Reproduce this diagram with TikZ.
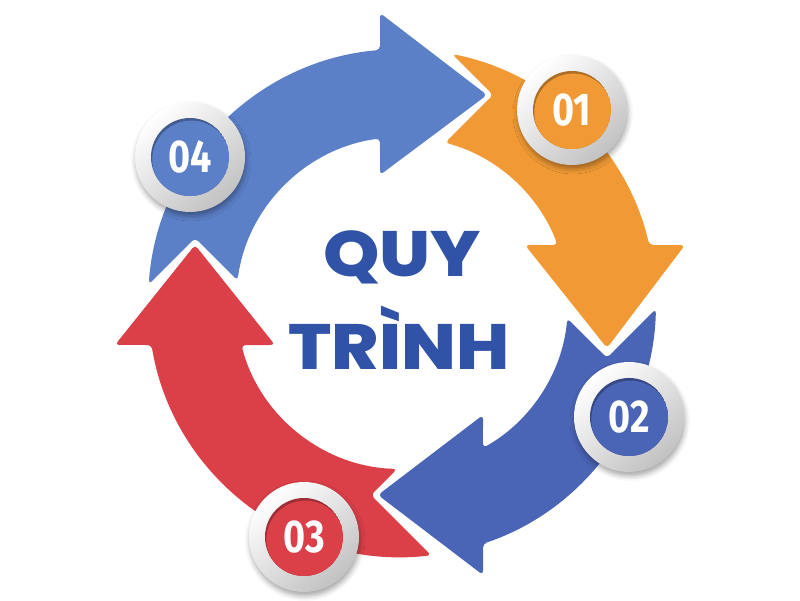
\documentclass[tikz,border=0pt]{standalone}
\usepackage{fontspec}
\usetikzlibrary{calc,shadows.blur}
\newfontfamily\titlefont{Poppins}[BoldFont={Poppins ExtraBold}]
\newfontfamily\numfont{Fira Sans}
\definecolor{arrA}{HTML}{5C80C8}
\definecolor{arrB}{HTML}{F19A35}
\definecolor{arrC}{HTML}{4A64B6}
\definecolor{arrD}{HTML}{DB4049}
\definecolor{titleblue}{HTML}{3153A7}
\tikzset{
  ring/.style={circle, minimum size=110pt, inner sep=0pt, top color=white, bottom color=black!24, shading angle=40,
    blur shadow={shadow xshift=1pt, shadow yshift=-4pt, shadow blur radius=5pt, shadow opacity=35}},
  num/.style={text=white, inner sep=0pt, font=\numfont\bfseries\fontsize{46}{46}\selectfont, xscale=0.82},
  titletext/.style={text=titleblue, inner sep=0pt, anchor=base, font=\titlefont\bfseries\fontsize{64}{64}\selectfont, xscale=1.12},
  arrowbody/.style={rounded corners=4pt}
}
\newcommand\mybadge[4]{%
  \node[ring] (#1r) at (#2) {};
  \begin{scope}
    \clip (#2) circle (39pt);
    \fill[#3!72!black] (#2) circle (39pt);
    \fill[#3] ($(#2)+(1.3,-2.6)$) circle (39pt);
  \end{scope}
  \node[num] (#1) at (#2) {#4};
}
\begin{document}
\begin{tikzpicture}[x=1pt,y=1pt]
\useasboundingbox (0,0) rectangle (800,600);
\coordinate (C) at (402,297);
% blue arrow (top-left)
\fill[arrA, arrowbody] ($(C)+(175.8:254)$) arc[start angle=175.8, end angle=94.97, radius=254pt]
  -- (380,587) -- (487,505) -- (380,425) -- ($(C)+(97.62:166)$)
  arc[start angle=97.62, end angle=172.2, radius=166pt] -- (195,362) -- cycle;
% orange arrow (top-right)
\fill[arrB, arrowbody] ($(C)+(78.6:254)$) arc[start angle=78.6, end angle=13.2, radius=254pt]
  -- (685,355) -- (607,252) -- (525,355) -- ($(C)+(20.45:166)$)
  arc[start angle=20.45, end angle=74.9, radius=166pt] -- (493,505) -- cycle;
% dark blue arrow (bottom-right)
\fill[arrC, arrowbody] ($(C)+(-1.35:254)$) arc[start angle=-1.35, end angle=-71.4, radius=254pt]
  -- (483,25) -- (378,105) -- (483,185) -- ($(C)+(-60.8:166)$)
  arc[start angle=-60.8, end angle=-5.3, radius=166pt] -- (607,242) -- cycle;
% red arrow (bottom-left)
\fill[arrD, arrowbody] ($(C)+(276.6:254)$) arc[start angle=276.6, end angle=189.52, radius=254pt]
  -- (115,255) -- (195,355) -- (275,255) -- ($(C)+(194.66:166)$)
  arc[start angle=194.66, end angle=268.3, radius=166pt] -- (371,105) -- cycle;
% badges
\mybadge{b1}{572,490}{arrB}{01}
\mybadge{b2}{629,183}{arrC}{02}
\mybadge{b3}{304,63}{arrD}{03}
\mybadge{b4}{190,443}{arrA}{04}
% title
\node[titletext] (t1) at (402,323) {QUY};
\node[titletext] (t2) at (399,230) {TRÌNH};
\end{tikzpicture}
\end{document}
